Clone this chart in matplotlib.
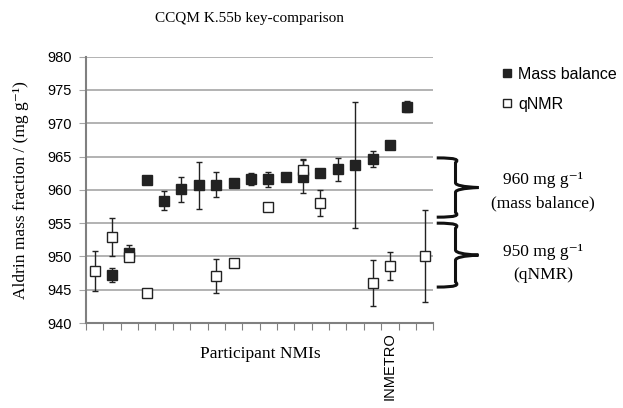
import numpy as np
import matplotlib
matplotlib.use("Agg")
import matplotlib.pyplot as plt
from matplotlib.path import Path
from matplotlib.patches import PathPatch
from matplotlib.lines import Line2D
from matplotlib.transforms import blended_transform_factory

nan = np.nan

# 20 participating NMIs, only one labelled in the original figure
labels = [""] * 17 + ["INMETRO", "", ""]

# Mass balance results and uncertainties (mg/g)
mb_val = [nan, 947.2, 950.5, 961.5, 958.4, 960.1, 960.7, 960.8, 961.0, 961.6,
          961.6, 961.9, 962.0, 962.6, 963.1, 963.7, 964.6, 966.7, 972.5, nan]
mb_err = [nan, 1.1, 1.2, 0.0, 1.4, 1.9, 3.5, 1.9, 0.6, 0.9,
          1.1, 0.0, 2.5, 0.3, 1.7, 9.5, 1.2, 0.3, 0.85, nan]

# qNMR results and uncertainties (mg/g)
q_val = [947.8, 952.9, 949.9, 944.5, nan, nan, nan, 947.0, 949.0, nan,
         957.4, nan, 963.0, 958.0, nan, nan, 946.0, 948.5, nan, 950.1]
q_err = [3.0, 2.9, 0.5, 0.0, nan, nan, nan, 2.55, 0.3, nan,
         0.0, nan, 1.6, 2.0, nan, nan, 3.5, 2.1, nan, 6.9]

serif = ["Liberation Serif", "DejaVu Serif"]
sans = ["Liberation Sans", "DejaVu Sans"]

fig = plt.figure(figsize=(6.23, 4.08), dpi=100)
ax = fig.add_axes([0.138, 0.2083, 0.5575, 0.6527])

x = np.arange(len(labels))
ax.errorbar(x, mb_val, yerr=mb_err, fmt="s", ms=6.5,
            mfc="#222222", mec="#222222", ecolor="#222222", elinewidth=1,
            capsize=2.5, capthick=1, zorder=3)
ax.errorbar(x, q_val, yerr=q_err, fmt="s", ms=6.5,
            mfc="white", mec="#222222", mew=1, ecolor="#222222", elinewidth=1,
            capsize=2.5, capthick=1, zorder=4)

ax.set_xlim(-0.5, len(labels) - 0.5)
ax.set_ylim(940, 980)
ax.set_yticks(np.arange(940, 981, 5))
ax.yaxis.grid(True, color="#a6a6a6", lw=1.2)
ax.set_axisbelow(True)

ax.set_xticks(np.arange(-0.5, len(labels)), minor=False)
ax.set_xticklabels([])
ax.set_xticks(x, minor=True)
ax.set_xticklabels(labels, minor=True, rotation=90, fontsize=10.5, family=sans)
ax.tick_params(axis="x", which="major", length=5, color="#808080", direction="out")
ax.tick_params(axis="x", which="minor", length=0, pad=7)
ax.tick_params(axis="y", length=5, color="#a6a6a6", labelsize=10.5, pad=5)
for t in ax.get_yticklabels():
    t.set_family(sans)

for s in ["top", "right"]:
    ax.spines[s].set_visible(False)
ax.spines["left"].set_color("#808080")
ax.spines["bottom"].set_color("#808080")
ax.spines["left"].set_linewidth(1.5)
ax.spines["bottom"].set_linewidth(1.5)

fig.text(0.40, 0.955, "CCQM K.55b key-comparison", ha="center", va="center",
         fontsize=11, family=serif)
fig.text(0.033, 0.535, "Aldrin mass fraction / (mg g\u207b\u00b9)", rotation=90,
         ha="center", va="center", fontsize=12.5, family=serif)
fig.text(0.418, 0.132, "Participant NMIs", ha="center", va="center",
         fontsize=12.5, family=serif)

handles = [Line2D([], [], ls="none", marker="s", ms=5.5, mfc="#222222", mec="#222222"),
           Line2D([], [], ls="none", marker="s", ms=5.5, mfc="white", mec="#222222")]
fig.legend(handles, ["Mass balance", "qNMR"], loc="upper left",
           bbox_to_anchor=(0.806, 0.836), frameon=False, borderpad=0,
           borderaxespad=0, prop={"family": sans, "size": 11.5},
           handlelength=0.6, handletextpad=0.4, labelspacing=0.95)


def brace(y0, y1, x0=0.701, x1=0.768):
    tr = blended_transform_factory(fig.transFigure, ax.transData)
    xm = x0 + 0.45 * (x1 - x0)
    xc = x0 + 0.5 * (x1 - x0)
    ym = (y0 + y1) / 2
    d = 0.08 * (y0 - y1)
    verts = [(x0, y0), (xc, y0), (xm + 0.005, y0 - d * 0.4), (xm, y0 - d),
             (xm, ym + d), (xm, ym + 0.2 * d), (x1, ym), (xm, ym - 0.2 * d), (xm, ym - d),
             (xm, y1 + d), (xm + 0.005, y1 + d * 0.4), (xc, y1), (x0, y1)]
    codes = [Path.MOVETO, Path.CURVE4, Path.CURVE4, Path.CURVE4,
             Path.LINETO, Path.CURVE3, Path.CURVE3, Path.CURVE3, Path.CURVE3,
             Path.LINETO, Path.CURVE4, Path.CURVE4, Path.CURVE4]
    p = PathPatch(Path(verts, codes), transform=tr, fill=False, lw=2.2,
                  ec="#111111", clip_on=False)
    fig.add_artist(p)


brace(964.8, 955.9)
brace(955.0, 945.4)

fig.text(0.872, 0.558, "960 mg g\u207b\u00b9", ha="center", va="center",
         fontsize=12.5, family=serif)
fig.text(0.872, 0.502, "(mass balance)", ha="center", va="center",
         fontsize=12.5, family=serif)
fig.text(0.872, 0.382, "950 mg g\u207b\u00b9", ha="center", va="center",
         fontsize=12.5, family=serif)
fig.text(0.872, 0.326, "(qNMR)", ha="center", va="center",
         fontsize=12.5, family=serif)

fig.savefig("out.png", dpi=100)
